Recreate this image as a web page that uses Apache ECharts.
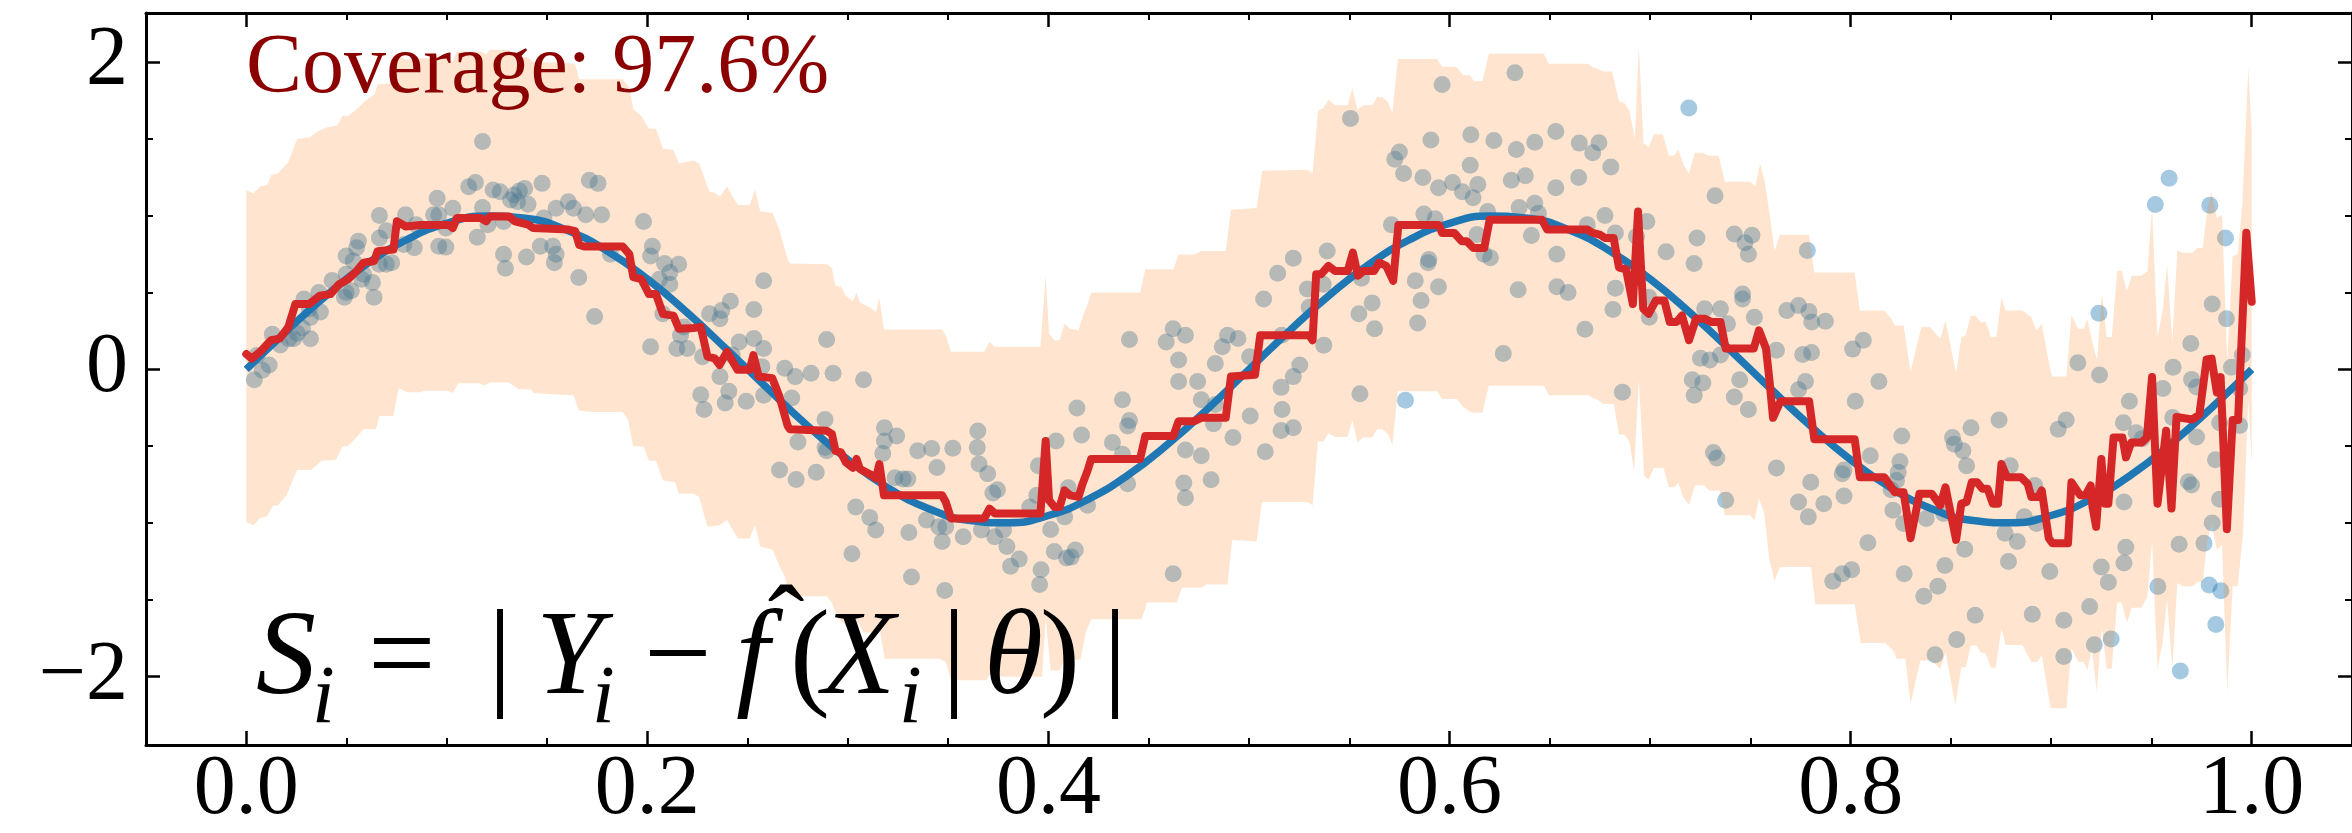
<!DOCTYPE html>
<html><head><meta charset="utf-8">
<script src="https://cdn.jsdelivr.net/npm/echarts@6/dist/echarts.min.js"></script>
<style>html,body{margin:0;padding:0;background:#fff}#c{width:2352px;height:833px}</style>
</head><body><div id="c"></div>
<script>
// ---------------- data ----------------
const xMajorTicks = [0, 0.2, 0.4, 0.6, 0.8, 1.0];
const xMinorTicks = [0.05,0.1,0.15,0.25,0.3,0.35,0.45,0.5,0.55,0.65,0.7,0.75,0.85,0.9,0.95];
const yMajorTicks = [-2, 0, 2];
const yMinorTicks = [-1.5,-1,-0.5,0.5,1,1.5];
const coverageText = 'Coverage: 97.6%';

const trueCurveX = [0,0.02,0.04,0.06,0.08,0.1,0.12,0.14,0.16,0.18,0.2,0.22,0.24,0.26,0.28,0.3,0.32,0.34,0.36,0.38,0.4,0.42,0.44,0.46,0.48,0.5,0.52,0.54,0.56,0.58,0.6,0.62,0.64,0.66,0.68,0.7,0.72,0.74,0.76,0.78,0.8,0.82,0.84,0.86,0.88,0.9,0.92,0.94,0.96,0.98,1.0];
const trueCurveY = [0,0.249,0.482,0.685,0.844,0.951,0.998,0.982,0.905,0.771,0.588,0.368,0.125,-0.125,-0.368,-0.588,-0.771,-0.905,-0.982,-0.998,-0.951,-0.844,-0.685,-0.482,-0.249,0,0.249,0.482,0.685,0.844,0.951,0.998,0.982,0.905,0.771,0.588,0.368,0.125,-0.125,-0.368,-0.588,-0.771,-0.905,-0.982,-0.998,-0.951,-0.844,-0.685,-0.482,-0.249,0];

const predLine = [[0,0.1],[0.0027,0.07],[0.007,0.115],[0.0123,0.19],[0.0166,0.2],[0.021,0.276],[0.0245,0.426],[0.0315,0.426],[0.0367,0.48],[0.042,0.49],[0.0463,0.555],[0.0507,0.587],[0.055,0.64],[0.0585,0.695],[0.0638,0.706],[0.0655,0.77],[0.0734,0.78],[0.0751,0.964],[0.0795,0.93],[0.087,0.94],[0.101,0.94],[0.103,0.92],[0.105,0.985],[0.117,0.985],[0.1196,0.964],[0.1214,0.996],[0.131,0.996],[0.134,0.964],[0.1406,0.942],[0.143,0.92],[0.1607,0.91],[0.164,0.9],[0.166,0.81],[0.1685,0.8],[0.1877,0.8],[0.191,0.75],[0.193,0.6],[0.197,0.587],[0.2008,0.49],[0.2043,0.49],[0.2078,0.36],[0.213,0.35],[0.2157,0.265],[0.223,0.27],[0.2266,0.276],[0.23,0.083],[0.2336,0.072],[0.236,0.029],[0.2397,0.115],[0.245,-0.003],[0.251,-0.003],[0.2529,0.093],[0.2555,-0.046],[0.2623,-0.057],[0.2658,-0.175],[0.27,-0.369],[0.2711,-0.39],[0.2895,-0.4],[0.292,-0.42],[0.2938,-0.53],[0.2965,-0.54],[0.299,-0.605],[0.3025,-0.64],[0.3043,-0.583],[0.306,-0.648],[0.312,-0.69],[0.3139,-0.71],[0.3157,-0.616],[0.318,-0.82],[0.347,-0.82],[0.3488,-0.863],[0.3514,-0.97],[0.368,-0.97],[0.3706,-0.906],[0.3733,-0.938],[0.396,-0.938],[0.3986,-0.466],[0.4003,-0.852],[0.403,-0.895],[0.4056,-0.895],[0.408,-0.788],[0.4108,-0.82],[0.415,-0.83],[0.417,-0.745],[0.4195,-0.659],[0.4213,-0.583],[0.4457,-0.583],[0.4483,-0.433],[0.4623,-0.433],[0.4649,-0.337],[0.4727,-0.337],[0.4762,-0.315],[0.4884,-0.315],[0.491,-0.046],[0.503,-0.035],[0.5056,0.222],[0.53,0.222],[0.5317,0.19],[0.5335,0.62],[0.536,0.62],[0.5396,0.674],[0.543,0.64],[0.5492,0.64],[0.5518,0.76],[0.5543,0.61],[0.557,0.64],[0.5623,0.64],[0.5649,0.695],[0.5684,0.674],[0.5719,0.577],[0.5745,0.94],[0.5947,0.94],[0.5963,0.888],[0.6024,0.888],[0.606,0.835],[0.6085,0.835],[0.612,0.79],[0.6173,0.79],[0.62,0.974],[0.6461,0.974],[0.6487,0.91],[0.6688,0.91],[0.6714,0.888],[0.6749,0.877],[0.6775,0.856],[0.6818,0.856],[0.6845,0.663],[0.688,0.652],[0.6914,0.426],[0.694,1.028],[0.6966,0.394],[0.6993,0.362],[0.7028,0.448],[0.7071,0.448],[0.7098,0.308],[0.7132,0.308],[0.7159,0.351],[0.7194,0.19],[0.7229,0.33],[0.7272,0.33],[0.7307,0.308],[0.7351,0.308],[0.7377,0.136],[0.7517,0.136],[0.7543,0.255],[0.7578,0.136],[0.7595,-0.068],[0.7613,-0.315],[0.765,-0.208],[0.7793,-0.208],[0.7819,-0.455],[0.802,-0.455],[0.8046,-0.702],[0.8168,-0.702],[0.822,-0.799],[0.8264,-0.799],[0.8299,-1.099],[0.8343,-0.809],[0.8404,-0.809],[0.8447,-0.885],[0.8473,-0.767],[0.8526,-1.11],[0.8552,-0.874],[0.8578,-0.863],[0.8604,-0.734],[0.863,-0.734],[0.8657,-0.777],[0.8683,-0.777],[0.8709,-0.874],[0.8735,-0.874],[0.8752,-0.616],[0.8779,-0.702],[0.8849,-0.702],[0.8883,-0.745],[0.8901,-0.831],[0.8936,-0.831],[0.8953,-0.788],[0.8988,-1.099],[0.9006,-1.132],[0.9084,-1.132],[0.9101,-0.734],[0.9145,-0.82],[0.9171,-0.82],[0.9197,-0.756],[0.9206,-0.895],[0.9224,-1.025],[0.925,-0.583],[0.9268,-0.874],[0.9285,-0.874],[0.9311,-0.444],[0.9355,-0.444],[0.9373,-0.573],[0.9399,-0.476],[0.9451,-0.476],[0.9477,-0.444],[0.9503,-0.05],[0.953,-0.874],[0.9573,-0.4],[0.96,-0.906],[0.9625,-0.31],[0.9704,-0.326],[0.9739,-0.294],[0.9775,0.065],[0.98,0.07],[0.9826,-0.15],[0.9845,-0.05],[0.9876,-1.04],[0.9905,-0.33],[0.9932,-0.33],[0.9973,0.89],[1.0,0.44]];

const bandUpper = [[0,1.166],[0.0035,1.146],[0.007,1.19],[0.0105,1.2],[0.0123,1.264],[0.0158,1.275],[0.021,1.35],[0.0253,1.5],[0.0315,1.51],[0.035,1.544],[0.0402,1.576],[0.0454,1.587],[0.048,1.651],[0.0507,1.65],[0.055,1.694],[0.0594,1.748],[0.0638,1.79],[0.0655,1.855],[0.0734,1.865],[0.0751,2.05],[0.0795,2.015],[0.087,2.025],[0.101,2.025],[0.103,2.005],[0.105,2.07],[0.117,2.07],[0.1196,2.05],[0.1214,2.08],[0.131,2.08],[0.134,2.05],[0.1406,2.027],[0.143,2.0],[0.1607,1.995],[0.164,1.985],[0.166,1.888],[0.1877,1.888],[0.191,1.835],[0.193,1.694],[0.197,1.65],[0.2008,1.566],[0.2043,1.566],[0.2078,1.437],[0.213,1.43],[0.2157,1.34],[0.2231,1.36],[0.2258,1.34],[0.231,1.157],[0.2336,1.15],[0.2362,1.125],[0.2397,1.19],[0.245,1.07],[0.251,1.07],[0.2537,1.17],[0.2563,1.03],[0.2623,1.02],[0.2658,0.91],[0.27,0.716],[0.2711,0.69],[0.2895,0.684],[0.292,0.662],[0.2938,0.545],[0.2965,0.54],[0.299,0.48],[0.3025,0.445],[0.3043,0.5],[0.306,0.437],[0.312,0.395],[0.3139,0.373],[0.3157,0.465],[0.318,0.26],[0.347,0.26],[0.3488,0.222],[0.3514,0.115],[0.368,0.115],[0.3706,0.179],[0.3733,0.147],[0.396,0.147],[0.3986,0.61],[0.4003,0.233],[0.403,0.19],[0.4056,0.19],[0.408,0.297],[0.4108,0.265],[0.415,0.255],[0.417,0.34],[0.4195,0.426],[0.4213,0.5],[0.4457,0.5],[0.4483,0.652],[0.4623,0.652],[0.4649,0.748],[0.4727,0.748],[0.4762,0.77],[0.4884,0.77],[0.491,1.039],[0.5038,1.05],[0.5065,1.293],[0.5291,1.3],[0.5317,1.275],[0.5344,1.684],[0.537,1.7],[0.5396,1.755],[0.5431,1.72],[0.5492,1.72],[0.5515,1.83],[0.5541,1.69],[0.557,1.72],[0.5614,1.72],[0.564,1.775],[0.5666,1.77],[0.5693,1.74],[0.5715,1.665],[0.5742,2.02],[0.5937,2.02],[0.5963,1.97],[0.6033,1.97],[0.6068,1.915],[0.6103,1.915],[0.612,1.877],[0.6164,1.877],[0.6196,2.055],[0.647,2.055],[0.6495,1.99],[0.6688,1.99],[0.6714,1.967],[0.674,1.957],[0.6766,1.94],[0.681,1.94],[0.6845,1.745],[0.6871,1.735],[0.6897,1.684],[0.6924,1.501],[0.6944,2.11],[0.6967,1.475],[0.6993,1.445],[0.7019,1.53],[0.7063,1.53],[0.7094,1.393],[0.7119,1.393],[0.7141,1.43],[0.7168,1.329],[0.7194,1.275],[0.7223,1.41],[0.7264,1.41],[0.729,1.39],[0.7342,1.39],[0.7373,1.221],[0.75,1.221],[0.7525,1.19],[0.7548,1.338],[0.7572,1.222],[0.7595,1.02],[0.7621,0.77],[0.7647,0.877],[0.7793,0.877],[0.7819,0.63],[0.802,0.63],[0.8046,0.383],[0.8168,0.383],[0.8203,0.33],[0.822,0.286],[0.8264,0.286],[0.8299,-0.014],[0.8352,0.276],[0.8395,0.276],[0.8447,0.2],[0.8473,0.318],[0.8526,-0.025],[0.8552,0.21],[0.8573,0.222],[0.8599,0.35],[0.8622,0.35],[0.8648,0.308],[0.8674,0.308],[0.87,0.211],[0.8727,0.211],[0.8752,0.469],[0.8773,0.383],[0.8857,0.383],[0.8901,0.34],[0.8927,0.254],[0.8953,0.297],[0.8997,-0.014],[0.9006,-0.046],[0.9076,-0.046],[0.9101,0.35],[0.9136,0.265],[0.9162,0.265],[0.918,0.33],[0.9203,0.19],[0.9229,0.061],[0.9253,0.5],[0.9276,0.211],[0.9302,0.211],[0.9329,0.641],[0.9351,0.641],[0.9378,0.512],[0.9402,0.609],[0.945,0.609],[0.948,0.641],[0.9503,1.05],[0.953,0.211],[0.9556,0.384],[0.9578,0.685],[0.9604,0.18],[0.9629,0.775],[0.9657,0.76],[0.9704,0.76],[0.973,0.79],[0.9756,0.79],[0.9779,1.05],[0.98,1.157],[0.9826,0.985],[0.9852,1.006],[0.9878,0.061],[0.9905,0.738],[0.993,0.749],[0.9953,1.071],[0.9983,1.963],[1.0,1.544]];

const bandLower = [[0,-0.993],[0.0035,-1.014],[0.007,-0.965],[0.0102,-0.96],[0.0131,-0.891],[0.0158,-0.885],[0.0201,-0.82],[0.0253,-0.655],[0.0323,-0.655],[0.0376,-0.595],[0.0446,-0.59],[0.048,-0.504],[0.0507,-0.498],[0.0541,-0.455],[0.0585,-0.39],[0.0646,-0.39],[0.0664,-0.304],[0.0733,-0.304],[0.076,-0.122],[0.0803,-0.148],[0.0865,-0.148],[0.089,-0.139],[0.1004,-0.139],[0.103,-0.154],[0.1056,-0.09],[0.1161,-0.09],[0.1188,-0.104],[0.1214,-0.085],[0.131,-0.085],[0.1354,-0.126],[0.1423,-0.132],[0.1432,-0.154],[0.1545,-0.164],[0.1632,-0.169],[0.1658,-0.268],[0.1728,-0.277],[0.1877,-0.277],[0.1903,-0.326],[0.1929,-0.498],[0.1982,-0.504],[0.2008,-0.594],[0.2043,-0.594],[0.2078,-0.723],[0.2139,-0.734],[0.2156,-0.81],[0.2231,-0.81],[0.2258,-0.83],[0.23,-1.025],[0.236,-1.014],[0.2397,-0.981],[0.245,-1.1],[0.251,-1.1],[0.2537,-1.014],[0.2563,-1.153],[0.2624,-1.175],[0.2659,-1.282],[0.2685,-1.347],[0.2711,-1.476],[0.2895,-1.476],[0.292,-1.518],[0.2947,-1.615],[0.2999,-1.68],[0.3026,-1.69],[0.3052,-1.647],[0.3078,-1.712],[0.3113,-1.712],[0.3139,-1.755],[0.3157,-1.68],[0.3183,-1.884],[0.3453,-1.884],[0.3488,-1.905],[0.3514,-2.024],[0.3689,-2.024],[0.3715,-1.97],[0.3733,-2.0],[0.3968,-2.0],[0.3986,-1.615],[0.4011,-1.96],[0.4056,-1.96],[0.4082,-1.884],[0.4108,-1.89],[0.416,-1.89],[0.4186,-1.712],[0.4213,-1.626],[0.4465,-1.626],[0.4492,-1.518],[0.464,-1.518],[0.4666,-1.422],[0.4763,-1.422],[0.4788,-1.4],[0.4893,-1.4],[0.4916,-1.11],[0.5038,-1.121],[0.5065,-0.863],[0.5291,-0.863],[0.5317,-0.885],[0.5344,-0.47],[0.537,-0.47],[0.5396,-0.418],[0.5431,-0.44],[0.5492,-0.44],[0.5515,-0.332],[0.5541,-0.476],[0.557,-0.444],[0.5614,-0.444],[0.564,-0.39],[0.5666,-0.39],[0.5693,-0.422],[0.5715,-0.491],[0.5742,-0.143],[0.5937,-0.143],[0.5963,-0.193],[0.6036,-0.193],[0.6068,-0.244],[0.6111,-0.283],[0.6164,-0.283],[0.6196,-0.106],[0.647,-0.106],[0.6495,-0.169],[0.6693,-0.169],[0.6714,-0.186],[0.674,-0.197],[0.6766,-0.225],[0.6819,-0.225],[0.6845,-0.422],[0.6871,-0.425],[0.6897,-0.47],[0.692,-0.659],[0.6944,-0.068],[0.697,-0.691],[0.6993,-0.719],[0.7019,-0.642],[0.7067,-0.642],[0.7094,-0.767],[0.7119,-0.767],[0.7141,-0.738],[0.7164,-0.827],[0.7194,-0.885],[0.7223,-0.756],[0.7269,-0.756],[0.7295,-0.788],[0.7346,-0.788],[0.7372,-0.949],[0.75,-0.949],[0.752,-0.986],[0.7543,-0.842],[0.7569,-0.938],[0.7595,-1.244],[0.7621,-1.379],[0.7647,-1.286],[0.7802,-1.286],[0.7824,-1.529],[0.802,-1.529],[0.805,-1.781],[0.8173,-1.781],[0.8212,-1.83],[0.823,-1.884],[0.8273,-1.884],[0.8299,-2.174],[0.8348,-1.895],[0.8401,-1.895],[0.8447,-1.948],[0.8473,-1.841],[0.8522,-2.185],[0.8552,-1.937],[0.8575,-1.937],[0.8599,-1.798],[0.8627,-1.798],[0.8651,-1.845],[0.8674,-1.85],[0.87,-1.942],[0.8723,-1.942],[0.8752,-1.69],[0.8773,-1.794],[0.8857,-1.794],[0.8901,-1.905],[0.893,-1.905],[0.8953,-1.863],[0.8997,-2.206],[0.9076,-2.206],[0.9101,-1.815],[0.9136,-1.905],[0.9162,-1.905],[0.918,-1.959],[0.9203,-1.82],[0.9227,-2.099],[0.9253,-1.68],[0.9276,-1.948],[0.9302,-1.948],[0.9329,-1.518],[0.9351,-1.518],[0.9378,-1.647],[0.9402,-1.551],[0.945,-1.551],[0.948,-1.476],[0.9503,-1.121],[0.953,-1.948],[0.9556,-1.776],[0.9578,-1.497],[0.9604,-1.948],[0.9629,-1.39],[0.9657,-1.411],[0.9704,-1.411],[0.9733,-1.383],[0.9756,-1.383],[0.9779,-1.11],[0.98,-1.003],[0.9826,-1.175],[0.9852,-1.142],[0.9878,-2.099],[0.9905,-1.411],[0.993,-1.411],[0.9957,-1.067],[0.9983,-0.186],[1.0,-0.616]];

const observedPoints = [
[0.004,-0.068],[0.008,-0.006],[0.0114,0.028],[0.013,0.228],[0.017,0.159],[0.0213,0.2],[0.0254,0.235],[0.028,0.27],[0.032,0.2],[0.0288,0.458],[0.032,0.338],[0.037,0.373],[0.0362,0.5],[0.0428,0.579],[0.0053,0.09],[0.0236,0.2],[0.0314,0.394],
[0.1178,1.484],[0.1109,1.189],[0.1143,1.217],[0.1231,1.168],[0.1266,1.157],[0.1335,1.135],[0.1362,1.161],[0.1388,1.178],[0.1318,1.103],[0.1353,1.092],[0.1405,1.075],[0.1475,1.211],[0.1711,1.232],[0.1754,1.211],[0.0952,1.114],[0.103,1.049],[0.096,1.006],[0.1178,1.054],[0.1283,0.963],[0.1205,0.942],[0.1606,1.092],[0.1632,1.049],[0.1693,1.006],[0.1772,1.006],[0.1545,1.049],[0.1484,0.985],[0.0664,1.002],[0.0794,1.006],[0.0934,1.006],[0.0698,0.903],[0.0847,0.942],[0.0995,0.921],[0.1152,0.86],[0.0559,0.835],[0.055,0.792],[0.0664,0.856],[0.0786,0.813],[0.0838,0.792],[0.096,0.802],[0.0995,0.796],[0.1466,0.802],[0.1528,0.802],[0.1545,0.749],[0.1536,0.695],[0.1283,0.749],[0.1397,0.731],[0.1292,0.658],[0.1981,0.963],[0.2025,0.802],[0.2016,0.738],[0.2086,0.689],[0.2156,0.684],[0.2112,0.63],[0.2112,0.555],[0.206,0.587],[0.0498,0.738],[0.0533,0.706],[0.0698,0.684],[0.0725,0.695],[0.0664,0.684],[0.1658,0.598],[0.1816,0.749],[0.0498,0.62],[0.0576,0.587],[0.0629,0.566],[0.0585,0.62],[0.0498,0.501],[0.0524,0.512],[0.0489,0.469],[0.0637,0.469],[0.1737,0.345],[0.2077,0.362],[0.2165,0.222],[0.2182,0.276],[0.2016,0.147],[0.2147,0.136],[0.2199,0.136],
[0.258,0.577],[0.2414,0.443],[0.2371,0.383],[0.231,0.362],[0.2362,0.33],[0.2531,0.39],[0.2894,0.194],[0.2458,0.179],[0.2531,0.201],[0.258,0.136],[0.2275,0.082],[0.2423,0.093],[0.2571,0.018],[0.2685,0.007],[0.2737,-0.047],[0.2816,-0.025],[0.2926,-0.025],[0.3078,-0.068],[0.2362,-0.047],[0.4404,0.194],[0.4622,0.265],[0.4683,0.222],[0.4587,0.179],[0.4649,0.061],[0.4893,0.222],[0.4867,0.147],[0.4945,0.201],[0.4832,0.039],[0.4649,-0.079],[0.4744,-0.079],
[0.5963,1.855],[0.6326,1.931],[0.7193,1.701],[0.5506,1.634],[0.5907,1.494],[0.6106,1.527],[0.6221,1.49],[0.653,1.548],[0.6425,1.479],[0.6647,1.473],[0.6745,1.475],[0.6333,1.432],[0.575,1.415],[0.5727,1.368],[0.6103,1.329],[0.6714,1.411],[0.6804,1.318],[0.5771,1.275],[0.5867,1.249],[0.6015,1.217],[0.5945,1.183],[0.6064,1.157],[0.6141,1.204],[0.6117,1.118],[0.6308,1.232],[0.6378,1.26],[0.653,1.183],[0.6644,1.249],[0.6425,1.082],[0.7324,1.131],[0.5872,1.011],[0.5928,0.981],[0.619,1.028],[0.6347,1.054],[0.6443,1.017],[0.571,0.942],[0.6687,0.942],[0.6775,1.002],[0.6827,0.888],[0.6932,0.867],[0.6984,0.963],[0.7234,0.856],[0.742,0.882],[0.7508,0.873],[0.7473,0.824],[0.749,0.749],[0.6137,0.878],[0.6408,0.871],[0.6535,0.749],[0.708,0.766],[0.7219,0.689],[0.539,0.77],[0.5221,0.723],[0.5143,0.626],[0.5897,0.716],[0.5893,0.695],[0.6172,0.749],[0.6204,0.727],[0.5291,0.523],[0.53,0.405],[0.537,0.555],[0.5561,0.594],[0.5829,0.577],[0.5945,0.538],[0.5614,0.433],[0.5858,0.448],[0.6342,0.519],[0.6535,0.538],[0.6591,0.501],[0.6827,0.529],[0.7461,0.491],[0.7461,0.459],[0.5073,0.459],[0.5548,0.362],[0.5626,0.265],[0.5841,0.302],[0.6815,0.39],[0.6993,0.469],[0.6996,0.34],[0.7272,0.394],[0.7351,0.394],[0.7386,0.297],[0.752,0.34],[0.7682,0.383],[0.6675,0.261],[0.5163,0.222],[0.5373,0.158],[0.6268,0.104],[0.7251,0.072],[0.7298,0.061],[0.7351,0.093],[0.763,0.125],[0.5003,0.082],[0.5253,0.029],[0.5221,-0.047],[0.721,-0.068],[0.7447,-0.068],
[0.7784,0.774],[0.774,0.416],[0.7792,0.377],[0.7806,0.308],[0.7874,0.314],[0.7761,0.097],[0.7805,0.11],[0.801,0.132],[0.8063,0.19],[0.9133,0.044],[0.9241,-0.036],[0.7775,-0.079],[0.8141,-0.079],[0.9238,0.366],
[0.9588,1.245],[0.9519,1.073],[0.9791,1.069],[0.9869,0.856],[0.9803,0.426],[0.9874,0.33],[0.9696,0.168],[0.9608,0.014],[0.9557,-0.124],[0.97,-0.065],[0.9725,-0.114],[0.9899,0.014],[0.9953,0.093],[0.994,-0.124],[0.9606,-0.313],[0.9453,-0.451],[0.9725,-0.44],[0.994,-0.365],[0.984,-0.347],[0.9819,-0.588],[0.9684,-0.732],[0.97,-0.753],[0.984,-0.846],[0.9803,-1.0],[0.9638,-1.138],[0.9762,-1.131],[0.9532,-1.413],[0.9788,-1.403],[0.9846,-1.441],[0.9821,-1.661],[0.9644,-1.964],
[0.2266,-0.165],[0.2283,-0.261],[0.2388,-0.218],[0.2406,-0.143],[0.2493,-0.208],[0.258,-0.169],[0.272,-0.186],[0.2886,-0.326],[0.2886,-0.508],[0.2894,-0.53],[0.2751,-0.472],[0.2659,-0.655],[0.2742,-0.717],[0.2842,-0.67],[0.3182,-0.38],[0.3243,-0.433],[0.3182,-0.466],[0.3174,-0.547],[0.3235,-0.706],[0.3275,-0.713],[0.3299,-0.713],[0.3348,-0.53],[0.3418,-0.515],[0.3523,-0.513],[0.3444,-0.638],[0.3648,-0.401],[0.3645,-0.508],[0.3654,-0.616],[0.3697,-0.68],[0.3723,-0.805],[0.3746,-0.784],[0.3039,-0.895],[0.3109,-0.964],[0.3139,-1.046],[0.3304,-1.061],[0.3392,-0.981],[0.3453,-1.024],[0.3488,-1.024],[0.347,-1.121],[0.3575,-1.089],[0.3666,-1.046],[0.3732,-1.089],[0.3776,-1.046],[0.3793,-1.153],[0.3854,-1.235],[0.3811,-1.282],[0.302,-1.2],[0.3317,-1.351],[0.3483,-1.439],[0.3963,-1.304],[0.3956,-1.4],[0.4029,-1.185],[0.409,-1.228],[0.4113,-1.222],[0.4134,-1.175],[0.4011,-1.042],[0.395,-0.627],[0.4038,-0.466],[0.4142,-0.251],[0.4165,-0.427],[0.4099,-0.771],[0.4195,-0.885],[0.4081,-0.96],[0.3942,-0.82],[0.3907,-0.895],[0.4319,-0.476],[0.4369,-0.197],[0.4404,-0.332],[0.4395,-0.369],[0.4369,-0.552],[0.4395,-0.745],[0.4622,-1.33],[0.4762,-0.197],[0.4832,-0.229],[0.4823,-0.354],[0.492,-0.444],[0.4683,-0.524],[0.4762,-0.562],[0.4675,-0.739],[0.4683,-0.835],[0.4811,-0.719],
[0.516,-0.117],[0.5006,-0.304],[0.5165,-0.261],[0.516,-0.397],[0.5221,-0.38],[0.5081,-0.536],[0.5553,-0.158],[0.578,-0.201],[0.6862,-0.148],[0.7263,-0.089],[0.722,-0.169],[0.742,-0.18],[0.749,-0.261],[0.7316,-0.541],[0.7333,-0.577],[0.763,-0.642],[0.7377,-0.852],
[0.774,-0.132],[0.8023,-0.208],[0.8098,-0.562],[0.7967,-0.655],[0.7958,-0.68],[0.7967,-0.824],[0.7801,-0.734],[0.774,-0.863],[0.7866,-0.874],[0.7789,-0.96],[0.8246,-0.599],[0.8237,-0.67],[0.8229,-0.723],[0.8202,-0.784],[0.8211,-0.917],[0.8255,-0.433],[0.8264,-1.003],[0.8377,-0.971],[0.8508,-0.444],[0.8517,-0.487],[0.856,-0.53],[0.8578,-0.627],[0.86,-0.38],[0.874,-0.33],[0.8796,-0.627],[0.8866,-0.96],[0.8918,-0.756],[0.8927,-1.003],[0.877,-1.067],[0.8831,-1.121],[0.8787,-1.25],[0.8569,-1.17],[0.9075,-0.33],[0.9035,-0.39],[0.936,-0.347],[0.939,-0.208],[0.9424,-0.412],[0.9363,-0.863],[0.9372,-1.158],[0.9363,-1.261],[0.925,-1.286],[0.9285,-1.385],[0.8086,-1.128],[0.8005,-1.304],[0.7958,-1.33],[0.7911,-1.379],[0.8267,-1.33],[0.847,-1.276],[0.8435,-1.411],[0.8365,-1.476],[0.8621,-1.6],[0.8906,-1.594],[0.9063,-1.633],[0.9192,-1.544],[0.8993,-1.315],[0.8529,-1.759],[0.8421,-1.858],[0.9063,-1.869],[0.9215,-1.792],[0.9299,-1.755],[0.8464,-0.938]
];

// ---------------- chart ----------------
const FONT = '"Liberation Serif","DejaVu Serif",serif';
const chart = echarts.init(document.getElementById('c'), null, {renderer: 'canvas'});

function xAxisDef(pos, ticks, len, withLine, withLabels) {
  return {
    type: 'value', position: pos, min: -0.05, max: 1.05, z: 10,
    axisLine: {show: withLine, onZero: false, lineStyle: {color: '#000', width: 3}},
    axisTick: {show: true, inside: true, length: len, customValues: ticks,
      lineStyle: {color: '#000', width: len > 10 ? 2.5 : 2}},
    axisLabel: withLabels ? {show: true, customValues: ticks, margin: 4,
      formatter: v => v.toFixed(1), fontFamily: FONT, fontSize: 84, color: '#000'} : {show: false},
    splitLine: {show: false}
  };
}
function yAxisDef(pos, ticks, len, withLine, withLabels) {
  return {
    type: 'value', position: pos, min: -2.445, max: 2.32, z: 10,
    axisLine: {show: withLine, onZero: false, lineStyle: {color: '#000', width: 3}},
    axisTick: {show: true, inside: true, length: len, customValues: ticks,
      lineStyle: {color: '#000', width: len > 10 ? 2.5 : 2}},
    axisLabel: withLabels ? {show: true, customValues: ticks, margin: 18,
      formatter: v => (v < 0 ? '\u2212' + Math.abs(v) : String(v)), fontFamily: FONT, fontSize: 84, color: '#000'} : {show: false},
    splitLine: {show: false}
  };
}

// formula pieces (text only; layout constants)
const formulaPieces = [
  {t: 'S', x: 256, base: 702, size: 120, it: true},
  {t: 'i', x: 312, base: 728, size: 82, it: true},
  {t: '=', x: 368, base: 702, size: 120, it: false},
  {t: '|', x: 488, base: 702, size: 120, it: false},
  {t: 'Y', x: 536, base: 702, size: 120, it: true},
  {t: 'i', x: 592, base: 728, size: 82, it: true},
  {t: '\u2212', x: 644, base: 702, size: 120, it: false},
  {t: 'f', x: 736, base: 702, size: 120, it: true},
  {t: '(', x: 790, base: 702, size: 120, it: false},
  {t: 'X', x: 822, base: 702, size: 120, it: true},
  {t: 'i', x: 899, base: 728, size: 82, it: true},
  {t: '|', x: 942, base: 702, size: 120, it: false},
  {t: '\u03B8', x: 984, base: 702, size: 120, it: true},
  {t: ')', x: 1040, base: 702, size: 120, it: false},
  {t: '|', x: 1103, base: 702, size: 120, it: false}
];
const graphics = formulaPieces.map(p => ({
  type: 'text', x: p.x, y: p.base - 0.3375 * p.size, z: 100,
  style: {text: p.t, fontSize: p.size, fontFamily: FONT, fontStyle: p.it ? 'italic' : 'normal',
    fill: '#000', align: 'left', verticalAlign: 'middle'}
}));
graphics.push({type: 'text', x: 786, y: 632, z: 100,
  style: {text: '\u02C6', fontSize: 110, fontFamily: FONT, fill: '#000', align: 'center', verticalAlign: 'middle'}});
graphics.push({type: 'text', x: 246, y: 98 - 0.3375 * 84, z: 100,
  style: {text: coverageText, fontSize: 84, fontFamily: FONT, fill: '#8b0000', align: 'left', verticalAlign: 'middle'}});

const option = {
  animation: false,
  backgroundColor: '#fff',
  grid: {left: 146, top: 13, width: 2218, height: 739, containLabel: false},
  xAxis: [
    xAxisDef('bottom', xMajorTicks, 14, true, true),
    xAxisDef('top', xMajorTicks, 14, true, false),
    xAxisDef('bottom', xMinorTicks, 7, false, false),
    xAxisDef('top', xMinorTicks, 7, false, false)
  ],
  yAxis: [
    yAxisDef('left', yMajorTicks, 14, true, true),
    yAxisDef('right', yMajorTicks, 14, true, false),
    yAxisDef('left', yMinorTicks, 7, false, false),
    yAxisDef('right', yMinorTicks, 7, false, false)
  ],
  graphic: graphics,
  series: [
    {
      type: 'scatter', xAxisIndex: 0, yAxisIndex: 0, z: 1, silent: true,
      symbol: 'circle', symbolSize: 17,
      itemStyle: {color: '#1f77b4', opacity: 0.4},
      data: observedPoints
    },
    {
      type: 'custom', xAxisIndex: 0, yAxisIndex: 0, z: 2, silent: true,
      data: [[0, 0]],
      renderItem: function (params, api) {
        const pts = bandUpper.map(p => api.coord(p))
          .concat(bandLower.slice().reverse().map(p => api.coord(p)));
        return {type: 'polygon', shape: {points: pts}, style: {fill: 'rgba(255,127,14,0.2)'}};
      }
    },
    {
      type: 'line', xAxisIndex: 0, yAxisIndex: 0, z: 3, silent: true,
      data: trueCurveX.map((x, i) => [x, trueCurveY[i]]),
      smooth: true, showSymbol: false, symbol: 'none',
      lineStyle: {color: '#1f77b4', width: 7.5}
    },
    {
      type: 'line', xAxisIndex: 0, yAxisIndex: 0, z: 4, silent: true,
      data: predLine, showSymbol: false, symbol: 'none',
      lineStyle: {color: '#d62728', width: 8, join: 'round', cap: 'round'}
    }
  ]
};
chart.setOption(option);
</script>
</body></html>
